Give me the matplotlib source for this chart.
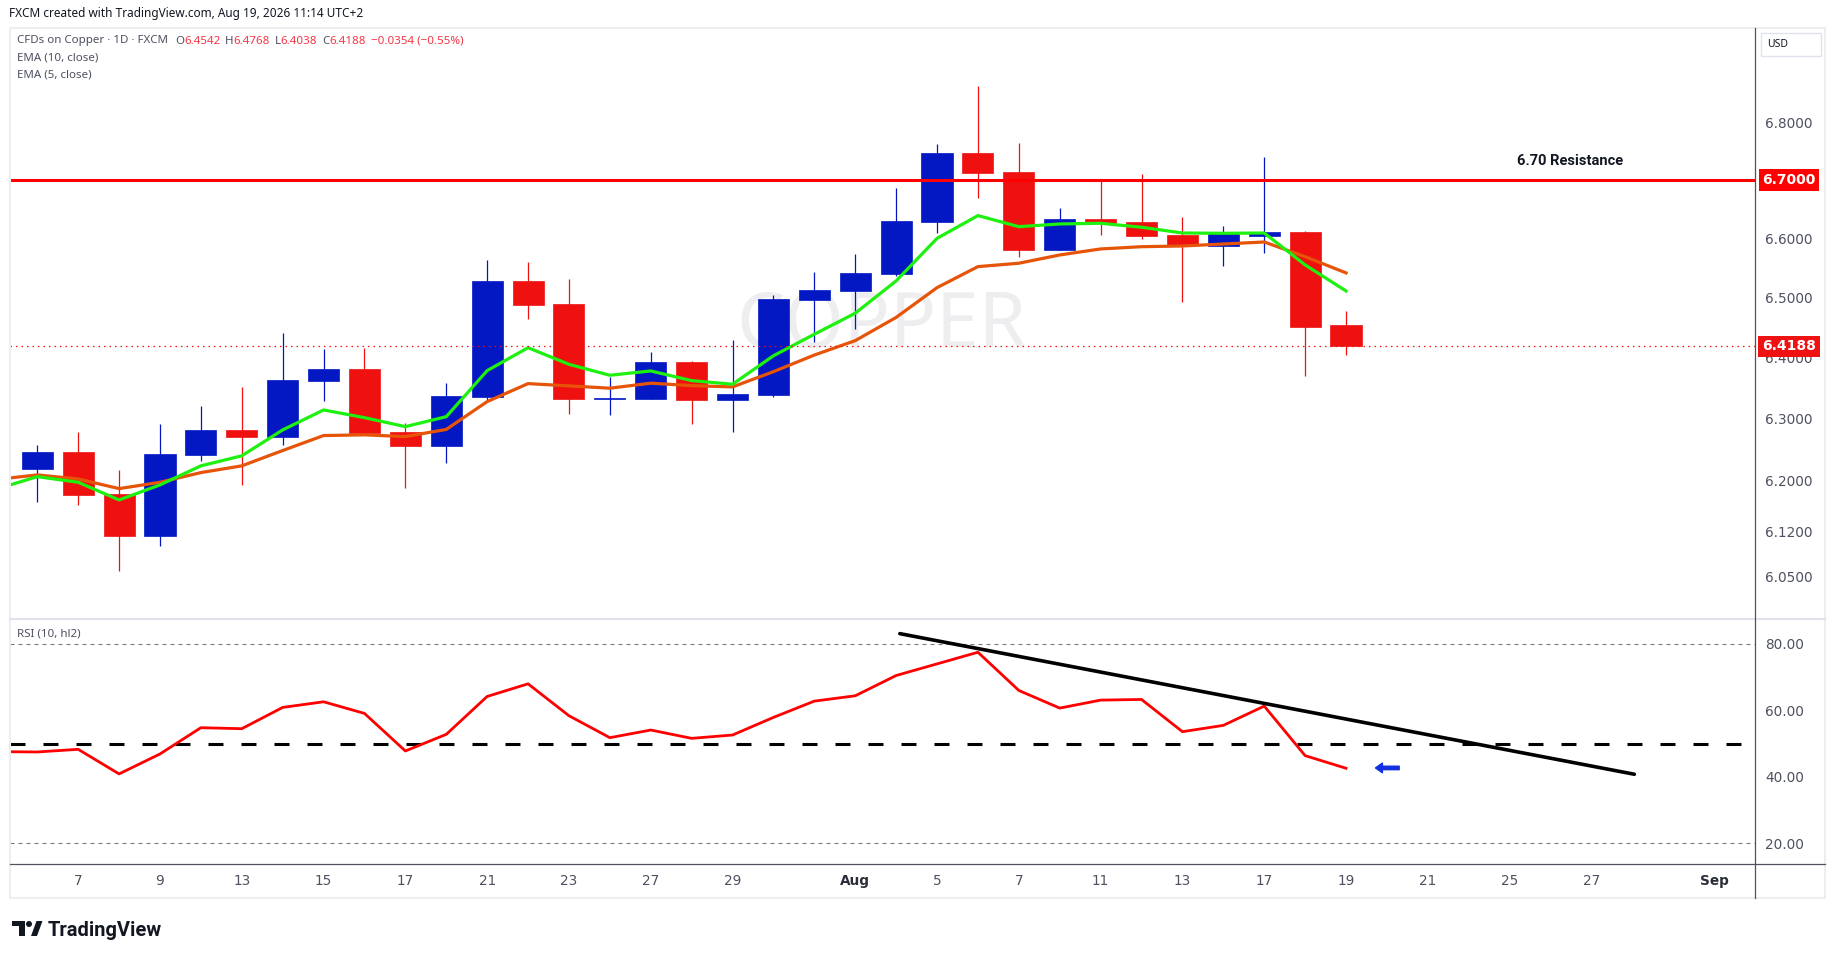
import numpy as np
import pandas as pd
import matplotlib
matplotlib.use("Agg")
import matplotlib.pyplot as plt
import matplotlib.ticker as mticker
import matplotlib.transforms as mtransforms
from matplotlib.lines import Line2D
from matplotlib.patches import Rectangle, Polygon, Ellipse

# ---- data: CFDs on Copper, FXCM, 1D ----
first_session = "2026-07-06"
last_axis_session = "2026-09-04"

opens = [6.2198, 6.2467, 6.1794, 6.1132, 6.2424, 6.2821, 6.2713, 6.3619, 6.3815,
         6.2789, 6.2569, 6.3363, 6.5280, 6.4893, 6.3330, 6.3330, 6.3930, 6.3310,
         6.3395, 6.4960, 6.5115, 6.5403, 6.6285, 6.7470, 6.7139, 6.5808, 6.6331,
         6.6280, 6.6062, 6.5862, 6.6045, 6.6108, 6.4542]
highs = [6.2580, 6.2789, 6.2177, 6.2918, 6.3211, 6.3521, 6.4411, 6.4145, 6.4161,
         6.2928, 6.3587, 6.5634, 6.5600, 6.5314, 6.3690, 6.4095, 6.3940, 6.4295,
         6.5038, 6.5432, 6.5735, 6.6863, 6.7626, 6.8639, 6.7644, 6.6520, 6.6983,
         6.7104, 6.6365, 6.6211, 6.7400, 6.6118, 6.4768]
lows = [6.1671, 6.1624, 6.0583, 6.0975, 6.2327, 6.1937, 6.2580, 6.3292, 6.2740,
        6.1894, 6.2295, 6.3310, 6.4649, 6.3085, 6.3069, 6.3320, 6.2923, 6.2794,
        6.3363, 6.4261, 6.4483, 6.5366, 6.6096, 6.6696, 6.5690, 6.5800, 6.6062,
        6.5993, 6.4932, 6.5526, 6.5757, 6.3706, 6.4038]
closes = [6.2467, 6.1783, 6.1132, 6.2435, 6.2821, 6.2713, 6.3636, 6.3815, 6.2778,
          6.2569, 6.3374, 6.5280, 6.4882, 6.3330, 6.3340, 6.3930, 6.3310, 6.3406,
          6.4977, 6.5128, 6.5415, 6.6297, 6.7470, 6.7127, 6.5808, 6.6331, 6.6263,
          6.6045, 6.5887, 6.6096, 6.6108, 6.4516, 6.4188]

# first value of each line is the session before the first candle (Jul 3)
ema5 = [6.1870, 6.2069, 6.1979, 6.1698, 6.1937, 6.2242, 6.2403, 6.2821, 6.3145,
        6.3020, 6.2874, 6.3036, 6.3788, 6.4166, 6.3892, 6.3712, 6.3783, 6.3624,
        6.3565, 6.4033, 6.4389, 6.4739, 6.5280, 6.6000, 6.6388, 6.6199, 6.6245,
        6.6257, 6.6189, 6.6091, 6.6086, 6.6091, 6.5550, 6.5111]
ema10 = [6.2024, 6.2097, 6.2032, 6.1878, 6.1979, 6.2134, 6.2242, 6.2488, 6.2730,
         6.2741, 6.2713, 6.2829, 6.3281, 6.3575, 6.3538, 6.3500, 6.3582, 6.3542,
         6.3521, 6.3771, 6.4045, 6.4283, 6.4669, 6.5167, 6.5521, 6.5578, 6.5718,
         6.5820, 6.5858, 6.5870, 6.5904, 6.5938, 6.5689, 6.5415]
rsi = [47.6, 47.5, 48.3, 40.9, 46.9, 54.8, 54.5, 60.9, 62.6, 59.1, 47.8, 52.8,
       64.2, 68.0, 58.4, 51.8, 54.1, 51.6, 52.6, 57.9, 62.8, 64.4, 70.5, 74.0,
       77.5, 66.0, 60.7, 63.1, 63.3, 53.6, 55.5, 61.3, 46.4, 42.6]

tick_dates = ["2026-07-07", "2026-07-09", "2026-07-13", "2026-07-15", "2026-07-17",
              "2026-07-21", "2026-07-23", "2026-07-27", "2026-07-29", "2026-08-03",
              "2026-08-05", "2026-08-07", "2026-08-11", "2026-08-13", "2026-08-17",
              "2026-08-19", "2026-08-21", "2026-08-25", "2026-08-27", "2026-09-01"]
tick_labels = ["7", "9", "13", "15", "17", "21", "23", "27", "29", "Aug",
               "5", "7", "11", "13", "17", "19", "21", "25", "27", "Sep"]

price_ticks = [6.05, 6.12, 6.20, 6.30, 6.40, 6.50, 6.60, 6.80]
rsi_levels = [20, 40, 60, 80]
resistance = 6.70
last_close = 6.4188

# hand-drawn annotations on the RSI pane (bar index, RSI value)
trend_idx = [21.09, 39.05]
trend_rsi = [83.1, 40.8]
arrow_idx = [33.30, 32.72]
arrow_rsi = 42.7

W, H = 1835, 959
UP, DOWN = "#0318c2", "#ef1010"
TXT = "#4e5160"


def fx(x):
    return x / W


def fy(y):
    return 1 - y / H


def price_tag(ax, y, text, colour):
    tr = mtransforms.blended_transform_factory(ax.transAxes, ax.transData)
    ax.text(1.0195, y, text, transform=tr, ha="center", va="center",
            color="white", fontsize=10, fontweight="bold", family="DejaVu Sans",
            bbox=dict(boxstyle="square,pad=0.26", fc=colour, ec="none"),
            zorder=10, clip_on=False)


def plot_chart(savepath):
    sessions = pd.bdate_range(first_session, last_axis_session)
    pos = {d: i for i, d in enumerate(sessions)}
    idx = np.arange(len(closes))
    line_x = np.arange(-1, len(closes))
    o, h, l, c = map(np.asarray, (opens, highs, lows, closes))
    cols = np.where(c >= o, UP, DOWN)

    fig = plt.figure(figsize=(W / 100, H / 100), dpi=100, facecolor="white")
    ax_p = fig.add_axes([fx(10), fy(618), 1745 / W, 590 / H])
    ax_r = fig.add_axes([fx(10), fy(864), 1745 / W, 244 / H])
    for ax in (ax_p, ax_r):
        ax.set_facecolor("none")
        for s in ax.spines.values():
            s.set_visible(False)
        ax.set_xlim(-0.667, 42.0)
        ax.yaxis.tick_right()
        ax.tick_params(axis="both", length=0, labelsize=9.8, labelcolor=TXT)
        ax.tick_params(axis="y", pad=7.5)

    # ---- price pane ----
    ax_p.text(fx(881), fy(347), "COPPER", transform=fig.transFigure,
              ha="center", va="baseline", fontsize=55, color="#eeeef1",
              family="Noto Sans", zorder=0)
    ax_p.vlines(idx, l, h, colors=cols, lw=0.9, zorder=2)
    ax_p.bar(idx, np.abs(c - o), bottom=np.minimum(o, c), width=0.76,
             color=cols, edgecolor=cols, linewidth=0.5, zorder=3)
    ax_p.plot(line_x, ema10, color="#e65408", lw=2.3, zorder=4,
              solid_joinstyle="round")
    ax_p.plot(line_x, ema5, color="#1ef010", lw=2.3, zorder=4,
              solid_joinstyle="round")
    ax_p.axhline(resistance, color="#ff0000", lw=2.2, zorder=5)
    ax_p.axhline(last_close, color="#ef1010", lw=0.9, ls=(0, (1.2, 3.2)),
                 zorder=5)
    ax_p.annotate("6.70 Resistance", xy=(37.47, resistance), xytext=(0, 14),
                  textcoords="offset points", ha="center", va="center",
                  fontsize=10.5, fontweight="bold", family="Roboto",
                  color="#131722", zorder=6)

    ax_p.set_yscale("log")
    ax_p.set_ylim(5.9849, 6.9676)
    ax_p.yaxis.set_major_locator(mticker.FixedLocator(price_ticks))
    ax_p.yaxis.set_major_formatter(mticker.FuncFormatter(lambda v, _: f"{v:.4f}"))
    ax_p.yaxis.set_minor_locator(mticker.NullLocator())
    ax_p.set_xticks([])
    price_tag(ax_p, resistance, "6.7000", "#ff0000")
    price_tag(ax_p, last_close, "6.4188", "#ef1212")

    # ---- RSI pane ----
    ax_r.axhline(80, color="#787b86", lw=0.8, ls=(0, (3.6, 3.6)))
    ax_r.axhline(20, color="#787b86", lw=0.8, ls=(0, (3.6, 3.6)))
    ax_r.axhline(50, color="black", lw=2.2, ls=(0, (4.9, 5.9)))
    ax_r.plot(line_x, rsi, color="#ff0000", lw=2.0, zorder=4)
    ax_r.plot(trend_idx, trend_rsi, color="black", lw=2.6,
              solid_capstyle="round", zorder=5)
    ax_r.annotate("", xy=(arrow_idx[1], arrow_rsi), xytext=(arrow_idx[0], arrow_rsi),
                  arrowprops=dict(arrowstyle="simple,head_width=0.7,head_length=0.5,tail_width=0.25",
                                  color="#1230e0", mutation_scale=10, shrinkA=0,
                                  shrinkB=0))
    ax_r.set_ylim(13.8, 87.2)
    ax_r.set_yticks(rsi_levels)
    ax_r.set_yticklabels([f"{v:.2f}" for v in rsi_levels])
    ax_r.set_xticks([pos[pd.Timestamp(d)] for d in tick_dates])
    ax_r.set_xticklabels(tick_labels)
    ax_r.tick_params(axis="x", pad=7.5)
    for lab in ax_r.get_xticklabels():
        if not lab.get_text().isdigit():
            lab.set_fontweight("bold")
            lab.set_color("#2a2e39")

    # ---- frame, separators, axis furniture ----
    fig.add_artist(Rectangle((fx(10), fy(898)), 1815 / W, 870 / H,
                             transform=fig.transFigure, fill=False,
                             ec="#eceef2", lw=1.5))
    fig.add_artist(Line2D([fx(10), fx(1825)], [fy(619), fy(619)],
                          transform=fig.transFigure, color="#e0e3eb", lw=1.5))
    fig.add_artist(Line2D([fx(10), fx(1825)], [fy(864), fy(864)],
                          transform=fig.transFigure, color="#50535e", lw=0.9))
    fig.add_artist(Line2D([fx(1755), fx(1755)], [fy(28), fy(898)],
                          transform=fig.transFigure, color="#50535e", lw=0.9))
    fig.add_artist(Rectangle((fx(1761), fy(56)), 60 / W, 23 / H,
                             transform=fig.transFigure, fc="white",
                             ec="#e0e3eb", lw=1.0))
    fig.text(fx(1767), fy(44.5), "USD", ha="left", va="center", fontsize=7.5,
             color="#131722", family="Noto Sans")

    # ---- header and legend texts ----
    fig.text(fx(9), fy(14), "FXCM created with TradingView.com, Aug 19, 2026 11:14 UTC+2",
             ha="left", va="center", fontsize=8.5, color="#131722",
             family="Noto Sans")
    red = "#f23645"
    parts = [("O", TXT, 5), ("6.4542", red, 0), ("H", TXT, 3.5), ("6.4768", red, 0),
             ("L", TXT, 3.5), ("6.4038", red, 0), ("C", TXT, 3.5), ("6.4188", red, 0),
             ("\u22120.0354 (\u22120.55%)", red, 3.5)]
    t = ax_p.annotate("CFDs on Copper \u00b7 1D \u00b7 FXCM", xy=(17, H - 41),
                      xycoords="figure pixels", ha="left", va="center",
                      fontsize=8.3, color=TXT, family="Noto Sans",
                      annotation_clip=False)
    for s, col, gap in parts:
        t = ax_p.annotate(s, xy=(1, 0), xycoords=t, xytext=(gap, 0),
                          textcoords="offset points", ha="left", va="bottom",
                          fontsize=8.3, color=col, family="Noto Sans",
                          annotation_clip=False)
    fig.text(fx(17), fy(58), "EMA (10, close)", ha="left", va="center",
             fontsize=8.3, color=TXT, family="Noto Sans")
    fig.text(fx(17), fy(75), "EMA (5, close)", ha="left", va="center",
             fontsize=8.3, color=TXT, family="Noto Sans")
    fig.text(fx(17), fy(634), "RSI (10, hl2)", ha="left", va="center",
             fontsize=8.3, color=TXT, family="Noto Sans")

    # ---- TradingView logo ----
    ink = "#131722"
    fig.add_artist(Polygon([(fx(12), fy(921)), (fx(24.5), fy(921)), (fx(24.5), fy(936)),
                            (fx(19), fy(936)), (fx(19), fy(926)), (fx(12), fy(926))],
                           closed=True, transform=fig.transFigure, fc=ink, ec="none"))
    fig.add_artist(Ellipse((fx(29), fy(924)), 6 / W, 6 / H,
                           transform=fig.transFigure, fc=ink, ec="none"))
    fig.add_artist(Polygon([(fx(31), fy(936)), (fx(36.5), fy(921)), (fx(42.5), fy(921)),
                            (fx(37), fy(936))], closed=True,
                           transform=fig.transFigure, fc=ink, ec="none"))
    fig.text(fx(48), fy(936), "TradingView", ha="left", va="baseline",
             fontsize=14.5, fontweight="bold", color=ink, family="Roboto")

    fig.savefig(savepath, dpi=100, facecolor="white")
    plt.close(fig)


if __name__ == "__main__":
    plot_chart("out.png")
